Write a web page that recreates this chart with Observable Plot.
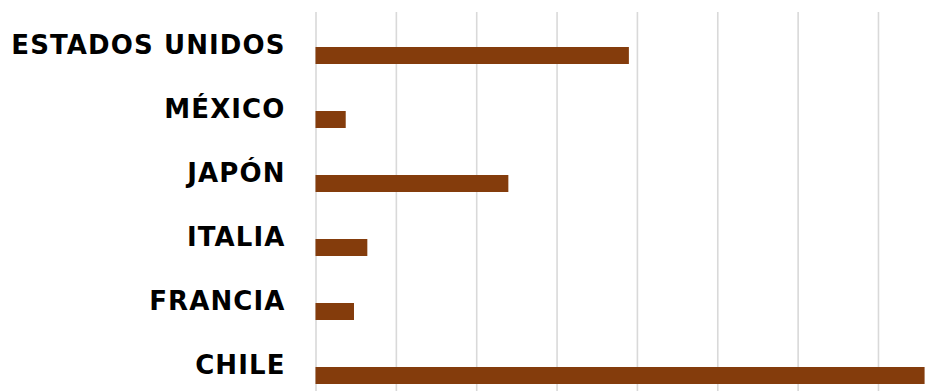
<!DOCTYPE html>
<html>
<head>
<meta charset="utf-8">
<script src="https://cdn.jsdelivr.net/npm/d3@7"></script>
<script src="https://cdn.jsdelivr.net/npm/@observablehq/plot@0.6"></script>
<style>
  html, body { margin: 0; padding: 0; background: #fff; }
  #chart svg { display: block; }
  #chart text { font-family: "DejaVu Sans", sans-serif; letter-spacing: 1.1px; }
</style>
</head>
<body>
<div id="chart"></div>
<script>
const categories = ["ESTADOS UNIDOS", "MÉXICO", "JAPÓN", "ITALIA", "FRANCIA", "CHILE"];
const values = [3.90, 0.376, 2.40, 0.645, 0.479, 7.58];
const gridTicks = [0, 1, 2, 3, 4, 5, 6, 7];

const data = categories.map((c, i) => ({ category: c, value: values[i] }));

const chart = Plot.plot({
  width: 947,
  height: 391,
  marginTop: 12,
  marginBottom: 0,
  marginLeft: 315,
  marginRight: 0,
  x: { domain: [0, 7.9], range: [315.5, 950.3], axis: null },
  y: { domain: categories, range: [11, 399.2], padding: 0, axis: null },
  marks: [
    Plot.ruleX(gridTicks, { x: d => d, stroke: "#d9d9d9", strokeWidth: 1.6 }),
    Plot.barX(data, {
      x: "value",
      y: "category",
      fill: "#843c0c",
      insetTop: 34,
      insetBottom: 13
    }),
    Plot.axisY({
      anchor: "left",
      tickSize: 0,
      tickPadding: 30,
      fontSize: 26,
      fontWeight: "bold",
      fill: "#000",
      label: null
    })
  ]
});
document.getElementById("chart").appendChild(chart);
</script>
</body>
</html>
